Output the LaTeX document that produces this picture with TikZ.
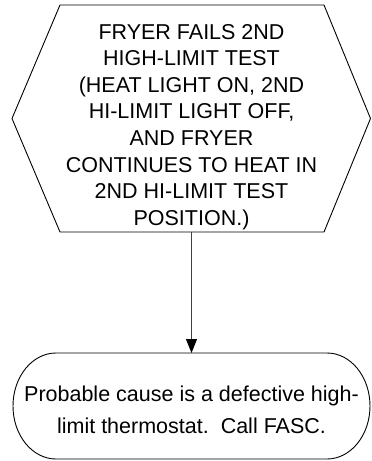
\documentclass[tikz,border=0pt]{standalone}
\usepackage{fontspec}
\setmainfont{Liberation Sans}
\usetikzlibrary{arrows.meta}
\begin{document}
\begin{tikzpicture}[x=1pt,y=1pt,
  shapeline/.style={draw=black,line width=0.9pt},
  txt/.style={align=center,font=\fontsize{21.5}{26.6}\selectfont,inner sep=0pt},
  conn/.style={draw=black!75,line width=1pt,-{Triangle[length=14pt,width=11pt,color=black]}}]
\useasboundingbox (0,0) rectangle (372,-461);
% hexagon
\draw[shapeline] (60,-5) -- (324,-5) -- (370.5,-118.5) -- (324,-232) -- (60,-232) -- (12,-118.5) -- cycle;
\node[txt] (dec) at (191.5,-127) {FRYER FAILS 2ND\\HIGH-LIMIT TEST\\(HEAT LIGHT ON, 2ND\\HI-LIMIT LIGHT OFF,\\AND FRYER\\CONTINUES TO HEAT IN\\2ND HI-LIMIT TEST\\POSITION.)};
\coordinate (dbot) at (191.5,-232);
% terminal
\draw[shapeline] (56,-353) -- (327,-353) arc[start angle=90,end angle=-90,x radius=43,y radius=53] -- (56,-459) arc[start angle=270,end angle=90,x radius=43,y radius=53] -- cycle;
\coordinate (ttop) at (191.5,-353);
\node[txt,font=\fontsize{21.5}{32}\selectfont] (term) at (191.5,-410) {Probable cause is a defective high-\\limit thermostat.\ \ Call FASC.};
\draw[conn] (dbot) -- (ttop);
\end{tikzpicture}
\end{document}
